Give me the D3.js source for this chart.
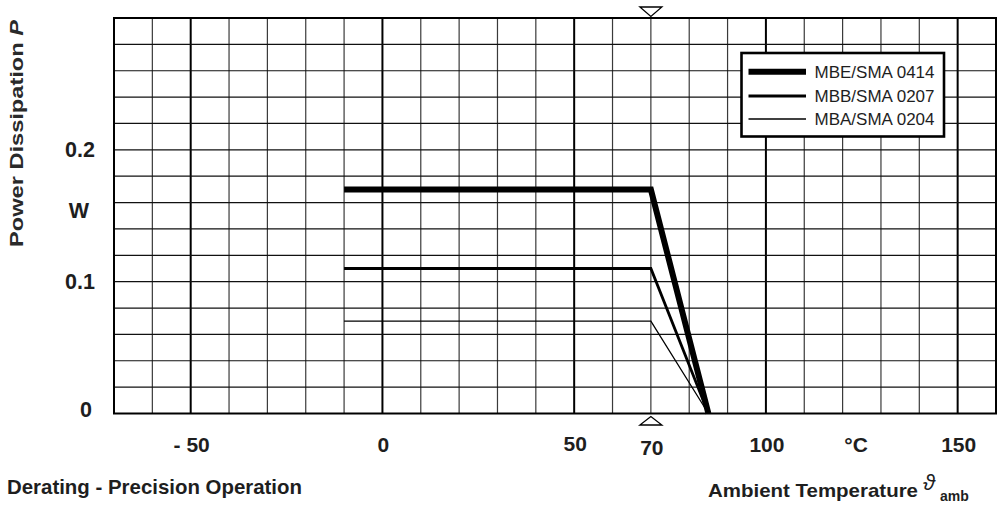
<!DOCTYPE html>
<html>
<head>
<meta charset="utf-8">
<script src="https://cdn.jsdelivr.net/npm/d3@7"></script>
<style>
  html, body { margin: 0; padding: 0; background: #fff; }
  svg { display: block; }
  text { font-family: "Liberation Sans", Arial, Helvetica, sans-serif; }
</style>
</head>
<body>
<svg id="chart" width="997" height="506"></svg>
<script>
// ---- data ----
const temperatures = [-10, 70, 85];
const seriesNames = ["MBE/SMA 0414", "MBB/SMA 0207", "MBA/SMA 0204"];
const mbe0414 = [0.17, 0.17, 0];
const mbb0207 = [0.11, 0.11, 0];
const mba0204 = [0.07, 0.07, 0];
const xTickValues = [-50, 0, 50, 70, 100, 150];
const xTickLabels = ["- 50", "0", "50", "70", "100", "150"];
const yTickValues = [0, 0.1, 0.2];
const yTickLabels = ["0", "0.1", "0.2"];
const xUnit = "°C";
const yUnit = "W";
const ratedTemp = 70;

// ---- layout / styles ----
const svg = d3.select("#chart");
const x = d3.scaleLinear().domain([-70, 160]).range([114, 996]);
const y = d3.scaleLinear().domain([0, 0.3]).range([413.5, 18]);
const seriesWidths = [6, 2.8, 1.3];
const textColor = "#1e1e1e";

const seriesValues = [mbe0414, mbb0207, mba0204];

// grid
const g = svg.append("g");
const vLines = d3.range(-70, 161, 10);
g.selectAll("line.v").data(vLines).enter().append("line")
  .attr("x1", d => x(d)).attr("x2", d => x(d))
  .attr("y1", y(0.3)).attr("y2", y(0))
  .attr("stroke", d => (d % 50 === 0) ? "#000" : "#3a3a3a")
  .attr("stroke-width", d => (d % 50 === 0) ? 2 : 1.2);
const hLines = d3.range(0, 16).map(i => i * 0.02);
g.selectAll("line.h").data(hLines).enter().append("line")
  .attr("x1", x(-70)).attr("x2", x(160))
  .attr("y1", d => y(d)).attr("y2", d => y(d))
  .attr("stroke", "#111").attr("stroke-width", 1.2);
// frame
g.append("rect")
  .attr("x", x(-70)).attr("y", y(0.3))
  .attr("width", x(160) - x(-70)).attr("height", y(0) - y(0.3))
  .attr("fill", "none").attr("stroke", "#000").attr("stroke-width", 2);

// series
const line = d3.line().x(d => x(d[0])).y(d => y(d[1]));
seriesValues.forEach((vals, i) => {
  const pts = temperatures.map((t, j) => [t, vals[j]]);
  svg.append("path").datum(pts)
    .attr("d", line)
    .attr("fill", "none").attr("stroke", "#000")
    .attr("stroke-width", seriesWidths[i])
    .attr("stroke-linejoin", "miter");
});

// triangles at rated temperature
const tx = x(ratedTemp);
svg.append("path")
  .attr("d", `M${tx - 11},7 L${tx + 11},7 L${tx},16.5 Z`)
  .attr("fill", "#fff").attr("stroke", "#000").attr("stroke-width", 1.3);
svg.append("path")
  .attr("d", `M${tx - 11},425 L${tx + 11},425 L${tx},416.5 Z`)
  .attr("fill", "#fff").attr("stroke", "#000").attr("stroke-width", 1.3);

// legend
const lg = svg.append("g");
lg.append("rect").attr("x", 741.5).attr("y", 53).attr("width", 202.5).attr("height", 83.5)
  .attr("fill", "#fff").attr("stroke", "#000").attr("stroke-width", 2.6);
const legendRowY = [71.7, 96, 119];
seriesNames.forEach((name, i) => {
  lg.append("line").attr("x1", 748.5).attr("x2", 806)
    .attr("y1", legendRowY[i]).attr("y2", legendRowY[i])
    .attr("stroke", "#000").attr("stroke-width", seriesWidths[i]);
  lg.append("text").attr("x", 814.5).attr("y", legendRowY[i] + 6)
    .attr("font-size", 17).attr("fill", textColor).text(name);
});

// x tick labels
const xLabelDy = { "70": 3 };
svg.selectAll("text.xt").data(xTickValues).enter().append("text")
  .attr("x", d => x(d) + 1).attr("y", (d, i) => 451.5 + (xLabelDy[String(d)] || 0) - (d === 50 ? 1 : 0))
  .attr("text-anchor", "middle").attr("font-size", 21).attr("font-weight", "bold")
  .attr("fill", textColor)
  .text((d, i) => xTickLabels[i]);
svg.append("text").attr("x", x(123.5)).attr("y", 452)
  .attr("text-anchor", "middle").attr("font-size", 21).attr("font-weight", "bold")
  .attr("fill", textColor).text(xUnit);

// y tick labels
svg.selectAll("text.yt").data(yTickValues).enter().append("text")
  .attr("x", d => d === 0 ? 92 : 95)
  .attr("y", d => y(d) + (d === 0 ? -4 : 0) + 7.5)
  .attr("text-anchor", "end").attr("font-size", 21.5).attr("font-weight", "bold")
  .attr("fill", textColor)
  .text((d, i) => yTickLabels[i]);
svg.append("text").attr("x", 79).attr("y", 217.5)
  .attr("text-anchor", "middle").attr("font-size", 21.5).attr("font-weight", "bold")
  .attr("fill", textColor).text(yUnit);

// y axis title
const yt = svg.append("text")
  .attr("transform", "translate(23,133.5) rotate(-90)")
  .attr("text-anchor", "middle").attr("font-size", 19).attr("font-weight", "bold")
  .attr("fill", "#2a2a2a")
  .attr("textLength", 227).attr("lengthAdjust", "spacingAndGlyphs");
yt.append("tspan").text("Power Dissipation ");
yt.append("tspan").attr("font-style", "italic").text("P");

// chart title
svg.append("text").attr("x", 7).attr("y", 493.5)
  .attr("font-size", 21).attr("font-weight", "bold").attr("fill", textColor)
  .attr("textLength", 295).attr("lengthAdjust", "spacingAndGlyphs")
  .text("Derating - Precision Operation");

// x axis title
svg.append("text").attr("x", 708).attr("y", 497)
  .attr("font-size", 19).attr("font-weight", "bold").attr("fill", textColor)
  .attr("textLength", 210).attr("lengthAdjust", "spacingAndGlyphs")
  .text("Ambient Temperature");
svg.append("text").attr("x", 923).attr("y", 490)
  .attr("font-size", 22).attr("font-style", "italic").attr("fill", textColor)
  .attr("font-family", "'DejaVu Serif', serif")
  .text("\u03D1");
svg.append("text").attr("x", 940).attr("y", 500.5)
  .attr("font-size", 14).attr("font-weight", "bold").attr("fill", textColor)
  .text("amb");
</script>
</body>
</html>
